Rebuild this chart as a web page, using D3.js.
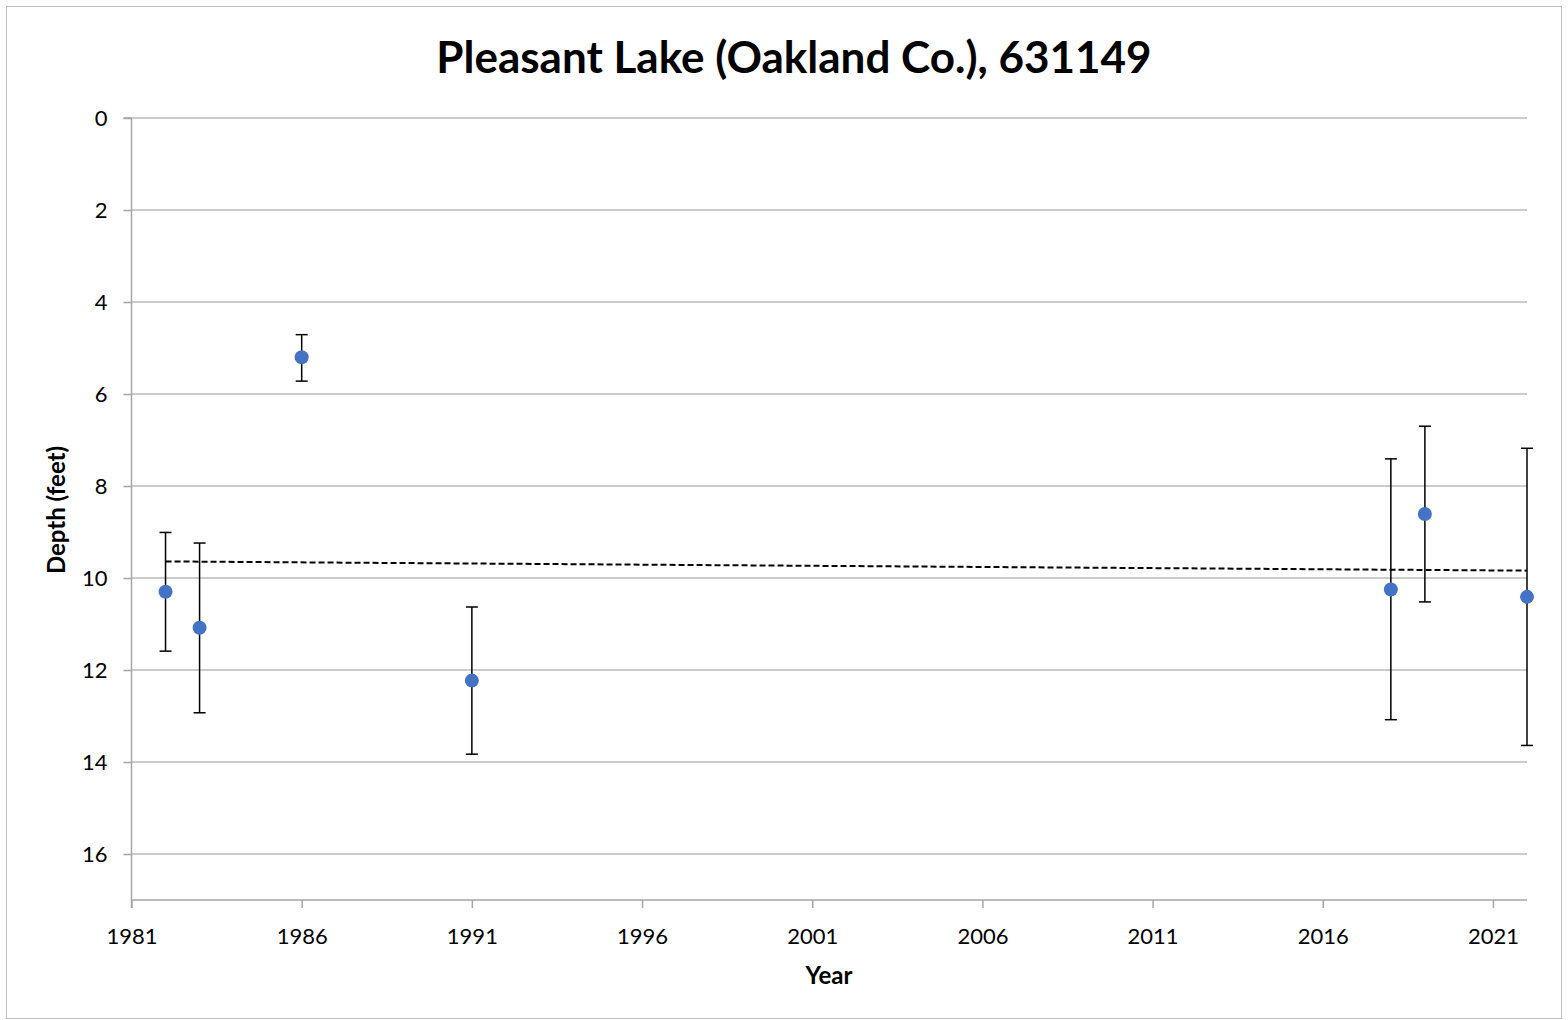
<!DOCTYPE html>
<html><head><meta charset="utf-8">
<script src="https://cdn.jsdelivr.net/npm/d3@7"></script>
<style>body{margin:0;background:#fff;} svg{display:block;font-family:Lato,"Open Sans",sans-serif;}</style>
</head><body>
<svg id="c" width="1568" height="1020"></svg>
<script>
const years = [1982, 1983, 1986, 1991, 2018, 2019, 2022];
const depth = [10.3, 11.08, 5.2, 12.23, 10.25, 8.61, 10.41];
const errLow = [9.01, 9.24, 4.71, 10.63, 7.41, 6.70, 7.18];
const errHigh = [11.59, 12.93, 5.72, 13.83, 13.08, 10.52, 13.64];
const trendYears = [1982, 2022];
const trendDepth = [9.64, 9.84];
const xTicks = [1981, 1986, 1991, 1996, 2001, 2006, 2011, 2016, 2021];
const yTicks = [0, 2, 4, 6, 8, 10, 12, 14, 16];

const svg = d3.select("#c");
svg.append("rect").attr("x",6.5).attr("y",6.5).attr("width",1555).attr("height",1012)
  .attr("fill","#fff").attr("stroke","#bfbfbf").attr("stroke-width",1);

const x = d3.scaleLinear().domain([1981, 2022]).range([131.5, 1527]);
const y = d3.scaleLinear().domain([0, 17]).range([118, 900]);

// gridlines
svg.append("g").selectAll("line").data(yTicks).join("line")
  .attr("x1", x(1981)).attr("x2", x(2022))
  .attr("y1", d=>y(d)).attr("y2", d=>y(d))
  .attr("stroke","#cccccc").attr("stroke-width",2.2);

// y axis
const ya = svg.append("g").attr("transform",`translate(${x(1981)},0)`)
  .call(d3.axisLeft(y).tickValues(yTicks).tickSize(8).tickPadding(16));
ya.select(".domain").attr("stroke","#a6a6a6").attr("stroke-width",1.5).attr("d",`M-8,${y(0)}H0V${y(17)}`);
ya.selectAll(".tick line").attr("stroke","#a6a6a6").attr("stroke-width",1.5);
ya.selectAll("text").attr("font-size",22).attr("fill","#000").attr("font-family","Lato, 'Open Sans', sans-serif");

// x axis
const xa = svg.append("g").attr("transform",`translate(0,${y(17)})`)
  .call(d3.axisBottom(x).tickValues(xTicks).tickFormat(d3.format("d")).tickSize(8).tickPadding(20));
xa.select(".domain").attr("stroke","#a6a6a6").attr("stroke-width",1.5).attr("d",`M${x(1981)},8V0H${x(2022)}`);
xa.selectAll(".tick line").attr("stroke","#a6a6a6").attr("stroke-width",1.5);
xa.selectAll("text").attr("font-size",22).attr("fill","#000").attr("font-family","Lato, 'Open Sans', sans-serif");

// trend line
svg.append("line")
  .attr("x1", x(trendYears[0])).attr("y1", y(trendDepth[0]))
  .attr("x2", x(trendYears[1])).attr("y2", y(trendDepth[1]))
  .attr("stroke","#000").attr("stroke-width",2).attr("stroke-dasharray","6,3");

// error bars
const eb = svg.append("g").selectAll("g").data(years.map((yr,i)=>({yr,lo:errLow[i],hi:errHigh[i]}))).join("g");
eb.append("line").attr("x1",d=>x(d.yr)).attr("x2",d=>x(d.yr)).attr("y1",d=>y(d.lo)).attr("y2",d=>y(d.hi)).attr("stroke","#000").attr("stroke-width",1.5);
eb.append("line").attr("x1",d=>x(d.yr)-6).attr("x2",d=>x(d.yr)+6).attr("y1",d=>y(d.lo)).attr("y2",d=>y(d.lo)).attr("stroke","#000").attr("stroke-width",1.5);
eb.append("line").attr("x1",d=>x(d.yr)-6).attr("x2",d=>x(d.yr)+6).attr("y1",d=>y(d.hi)).attr("y2",d=>y(d.hi)).attr("stroke","#000").attr("stroke-width",1.5);

// points
svg.append("g").selectAll("circle").data(years.map((yr,i)=>({yr,v:depth[i]}))).join("circle")
  .attr("cx",d=>x(d.yr)).attr("cy",d=>y(d.v)).attr("r",7).attr("fill","#4472C4");

// titles
svg.append("text").attr("x",794).attr("y",73).attr("text-anchor","middle")
  .attr("font-size",44).attr("font-weight","bold").text("Pleasant Lake (Oakland Co.), 631149");
svg.append("text").attr("x",829).attr("y",984).attr("text-anchor","middle")
  .attr("font-size",24).attr("font-weight","bold").text("Year");
svg.append("text").attr("transform","translate(65,510) rotate(-90)").attr("text-anchor","middle")
  .attr("font-size",24).attr("font-weight","bold").text("Depth (feet)");
</script>
</body></html>
